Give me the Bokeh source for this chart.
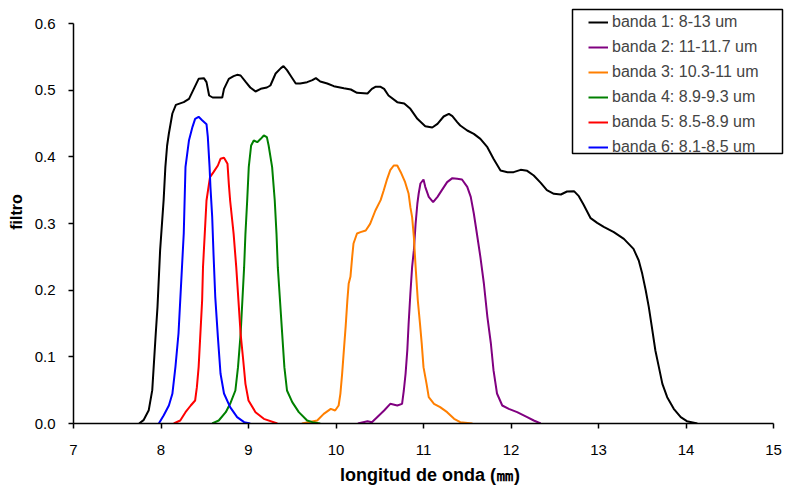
from bokeh.plotting import figure
from bokeh.models import Range1d, FixedTicker, PrintfTickFormatter, Legend, LegendItem, BoxAnnotation
from bokeh.embed import file_html
from bokeh.resources import INLINE

# ---------------- data ----------------
x_ticks = [7, 8, 9, 10, 11, 12, 13, 14, 15]
y_ticks = [0.0, 0.1, 0.2, 0.3, 0.4, 0.5, 0.6]

labels = ["banda 1: 8-13 um", "banda 2: 11-11.7 um", "banda 3: 10.3-11 um",
          "banda 4: 8.9-9.3 um", "banda 5: 8.5-8.9 um", "banda 6: 8.1-8.5 um"]
colors = ["#000000", "#800080", "#FF7F00", "#008000", "#FF0000", "#0000FF"]

b1_x = [7.75, 7.80, 7.86, 7.90, 7.94, 7.96, 7.99, 8.03, 8.05, 8.07, 8.09, 8.13, 8.17, 8.26, 8.32,
        8.375, 8.43, 8.49, 8.52, 8.55, 8.59, 8.70, 8.72, 8.775, 8.83, 8.87, 8.91, 8.97, 9.02, 9.08,
        9.14, 9.21, 9.25, 9.31, 9.37, 9.40, 9.44, 9.48, 9.54, 9.59, 9.67, 9.73, 9.77, 9.82, 9.90,
        9.975, 10.09, 10.17, 10.24, 10.36, 10.41, 10.45, 10.51, 10.55, 10.60, 10.70, 10.78, 10.85,
        10.93, 11.02, 11.10, 11.16, 11.23, 11.29, 11.33, 11.385, 11.42, 11.50, 11.575, 11.65, 11.73,
        11.80, 11.88, 11.96, 12.03, 12.11, 12.185, 12.26, 12.34, 12.41, 12.49, 12.57, 12.64, 12.72,
        12.775, 12.83, 12.91, 12.985, 13.06, 13.175, 13.29, 13.40, 13.46, 13.50, 13.54, 13.575,
        13.61, 13.65, 13.69, 13.73, 13.785, 13.86, 13.94, 14.01, 14.13]
b1_y = [0.0, 0.005, 0.02, 0.05, 0.135, 0.175, 0.26, 0.335, 0.385, 0.417, 0.435, 0.465, 0.478, 0.482, 0.487,
        0.502, 0.517, 0.518, 0.512, 0.492, 0.489, 0.489, 0.502, 0.517, 0.521, 0.523, 0.522, 0.512, 0.504, 0.498,
        0.502, 0.504, 0.507, 0.525, 0.533, 0.536, 0.53, 0.522, 0.51, 0.51, 0.512, 0.515, 0.518, 0.513, 0.51,
        0.506, 0.503, 0.501, 0.496, 0.495, 0.502, 0.505, 0.505, 0.502, 0.492, 0.482, 0.48, 0.472,
        0.457, 0.446, 0.444, 0.4495, 0.4605, 0.4645, 0.461, 0.452, 0.447, 0.4395, 0.4345, 0.427, 0.4145,
        0.397, 0.3795, 0.377, 0.377, 0.3805, 0.379, 0.372, 0.361, 0.35, 0.3445, 0.3435, 0.348, 0.3485,
        0.341, 0.328, 0.308, 0.301, 0.295, 0.287, 0.277, 0.262, 0.2445, 0.2245, 0.1995, 0.1745,
        0.1445, 0.1095, 0.0845, 0.0595, 0.0395, 0.022, 0.0095, 0.0035, 0.0]

b2_x = [10.25, 10.36, 10.41, 10.47, 10.55, 10.62, 10.70, 10.755, 10.775, 10.795, 10.815, 10.83, 10.85,
        10.87, 10.89, 10.91, 10.93, 10.945, 10.965, 11.00, 11.02, 11.06, 11.11, 11.16, 11.21, 11.27,
        11.33, 11.385, 11.44, 11.50, 11.54, 11.575, 11.61, 11.65, 11.69, 11.73, 11.77, 11.80, 11.84,
        11.90, 11.975, 12.07, 12.185, 12.26, 12.34]
b2_y = [0.0, 0.0035, 0.002, 0.0095, 0.0195, 0.0295, 0.027, 0.0295, 0.0495, 0.0745, 0.11, 0.15, 0.195,
        0.235, 0.26, 0.30, 0.33, 0.345, 0.36, 0.366, 0.355, 0.34, 0.332, 0.34, 0.35, 0.362,
        0.368, 0.367, 0.366, 0.355, 0.34, 0.315, 0.285, 0.25, 0.21, 0.16, 0.12, 0.08, 0.045,
        0.027, 0.022, 0.017, 0.0095, 0.0045, 0.0]

b3_x = [9.61, 9.785, 9.86, 9.94, 9.99, 10.03, 10.05, 10.07, 10.09, 10.11, 10.13, 10.145, 10.165, 10.185,
        10.20, 10.24, 10.28, 10.34, 10.39, 10.45, 10.51, 10.545, 10.585, 10.62, 10.66, 10.70, 10.74,
        10.79, 10.83, 10.85, 10.87, 10.89, 10.91, 10.935, 10.96, 10.98, 11.00, 11.035, 11.06, 11.12,
        11.19, 11.27, 11.35, 11.42, 11.56]
b3_y = [0.0, 0.0045, 0.0145, 0.022, 0.0195, 0.027, 0.0445, 0.0745, 0.11, 0.145, 0.185, 0.21, 0.22, 0.25,
        0.27, 0.285, 0.287, 0.2895, 0.2995, 0.3195, 0.335, 0.3495, 0.367, 0.38, 0.387, 0.387, 0.377,
        0.362, 0.3445, 0.3245, 0.3095, 0.2795, 0.2345, 0.1845, 0.1495, 0.1195, 0.0845, 0.0595, 0.0395, 0.0295,
        0.0245, 0.017, 0.007, 0.002, 0.0]

b4_x = [8.585, 8.66, 8.74, 8.79, 8.85, 8.88, 8.91, 8.93, 8.95, 8.965, 8.985, 9.003, 9.03, 9.06, 9.10,
        9.14, 9.175, 9.21, 9.23, 9.27, 9.30, 9.32, 9.335, 9.36, 9.385, 9.41, 9.44, 9.50, 9.575, 9.67,
        9.73, 9.82]
b4_y = [0.0, 0.0045, 0.017, 0.0295, 0.0495, 0.0845, 0.1345, 0.1845, 0.2345, 0.2845, 0.3345, 0.3845, 0.417,
        0.4245, 0.422, 0.427, 0.432, 0.4295, 0.417, 0.3845, 0.3345, 0.2845, 0.2345, 0.1845, 0.1345, 0.0845,
        0.0495, 0.032, 0.017, 0.0045, 0.002, 0.0]

b5_x = [8.146, 8.22, 8.28, 8.34, 8.39, 8.41, 8.43, 8.45, 8.47, 8.48, 8.50, 8.52, 8.56, 8.60, 8.65, 8.68,
        8.72, 8.76, 8.775, 8.79, 8.83, 8.86, 8.89, 8.91, 8.94, 8.965, 9.00, 9.08, 9.175, 9.33]
b5_y = [0.0, 0.0045, 0.017, 0.027, 0.0345, 0.0545, 0.0845, 0.1345, 0.1845, 0.2345, 0.2845, 0.3345, 0.3695,
        0.377, 0.387, 0.397, 0.3985, 0.3895, 0.3595, 0.3345, 0.2845, 0.2345, 0.1745, 0.1345, 0.0945,
        0.0595, 0.0345, 0.017, 0.007, 0.0]

b6_x = [7.975, 8.03, 8.09, 8.13, 8.165, 8.20, 8.22, 8.24, 8.26, 8.27, 8.28, 8.32, 8.36, 8.39, 8.43, 8.47,
        8.52, 8.535, 8.555, 8.565, 8.585, 8.60, 8.62, 8.65, 8.68, 8.72, 8.79, 8.87, 8.95, 9.02]
b6_y = [0.0, 0.012, 0.027, 0.0445, 0.085, 0.135, 0.185, 0.235, 0.285, 0.335, 0.385, 0.425, 0.445, 0.457,
        0.46, 0.455, 0.449, 0.43, 0.385, 0.355, 0.31, 0.255, 0.19, 0.13, 0.075, 0.045, 0.0245, 0.0095,
        0.002, 0.0]

series_x = [b1_x, b2_x, b3_x, b4_x, b5_x, b6_x]
series_y = [b1_y, b2_y, b3_y, b4_y, b5_y, b6_y]

# ---------------- layout ----------------
W, H = 789, 490
FL, FR, FT, FB = 73, 786, 0, 423        # frame edges (canvas px)
PX_X = 700 / (x_ticks[-1] - x_ticks[0])  # px per x unit
PX_Y = 400 / (y_ticks[-1] - y_ticks[0])  # px per y unit
x_start = x_ticks[0]
x_end = x_ticks[0] + (FR - FL) / PX_X
y_end = (FB - FT) / PX_Y

FONT = "Liberation Sans"

p = figure(width=W, height=H, output_backend="svg", toolbar_location=None,
           x_range=Range1d(x_start, x_end), y_range=Range1d(0, y_end),
           min_border_left=FL, min_border_right=W - FR,
           min_border_top=FT, min_border_bottom=H - FB)
p.xgrid.visible = False
p.ygrid.visible = False
p.outline_line_color = None
p.background_fill_color = "white"
p.border_fill_color = "white"

for ax in (p.xaxis[0], p.yaxis[0]):
    ax.axis_line_color = "black"
    ax.axis_line_width = 1.5
    ax.major_tick_line_color = "black"
    ax.major_tick_line_width = 1.5
    ax.major_tick_in = 0
    ax.major_tick_out = 5
    ax.minor_tick_line_color = None
    ax.major_label_text_font = FONT
    ax.major_label_text_font_size = "15px"
    ax.major_label_text_color = "black"
    ax.axis_label_text_font = FONT
    ax.axis_label_text_font_style = "bold"
    ax.axis_label_text_color = "black"

p.xaxis.axis_label_text_font_size = "18px"
p.yaxis.axis_label_text_font_size = "16px"
p.xaxis.ticker = FixedTicker(ticks=x_ticks)
p.yaxis.ticker = FixedTicker(ticks=y_ticks)
p.yaxis.formatter = PrintfTickFormatter(format="%.1f")
p.xaxis.bounds = (x_ticks[0], x_ticks[-1])
p.yaxis.bounds = (y_ticks[0], y_ticks[-1])
p.xaxis.axis_label = "longitud de onda (㎜)"
p.yaxis.axis_label = "filtro"
p.xaxis.major_label_standoff = 16
p.yaxis.major_label_standoff = 13
p.xaxis.axis_label_standoff = 7
p.yaxis.axis_label_standoff = 7

renderers = []
for xs, ys, c in zip(series_x, series_y, colors):
    r = p.line(xs, ys, line_color=c, line_width=2)
    renderers.append(r)

legend = Legend(items=[LegendItem(label=l, renderers=[r]) for l, r in zip(labels, renderers)],
                location=(515, 266), padding=0, margin=0, spacing=5,
                glyph_width=20, glyph_height=20, label_height=20, label_standoff=4,
                label_text_font=FONT, label_text_font_size="16px",
                border_line_alpha=0, background_fill_alpha=0)
p.add_layout(legend)

# legend frame (canvas px 572..782 x 9..153)
bx0, bx1, by0, by1 = 572, 782, 9, 153
box = BoxAnnotation(left=x_start + (bx0 - FL) / PX_X, right=x_start + (bx1 - FL) / PX_X,
                    top=(FB - by0) / PX_Y, bottom=(FB - by1) / PX_Y,
                    fill_color=None, fill_alpha=0, line_color="black", line_width=1.5, line_alpha=1)
p.add_layout(box)

open("out.html", "w").write(file_html(p, INLINE))
